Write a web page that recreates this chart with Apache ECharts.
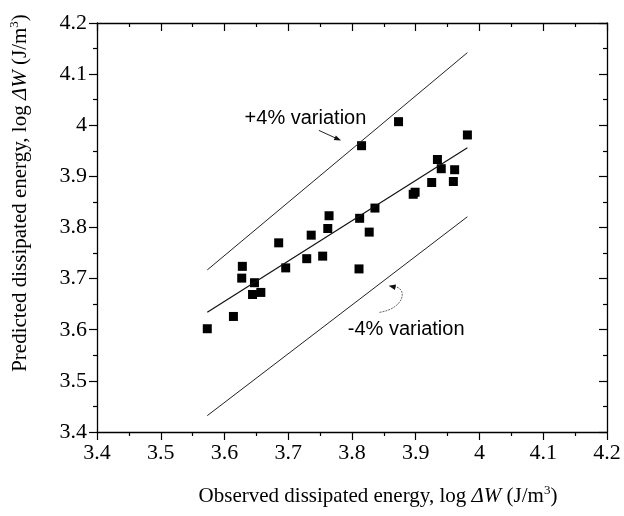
<!DOCTYPE html>
<html>
<head>
<meta charset="utf-8">
<script src="https://cdn.jsdelivr.net/npm/echarts@6/dist/echarts.min.js"></script>
<style>
html,body{margin:0;padding:0;background:#fff;}
#chart{width:624px;height:516px;}
</style>
</head>
<body>
<div id="chart"></div>
<script>
// Data (observed, predicted) in log ΔW
var observed = [3.573,3.614,3.628,3.627,3.647,3.644,3.657,3.685,3.696,3.729,3.736,3.754,3.762,3.764,3.811,3.812,3.815,3.827,3.836,3.873,3.896,3.899,3.925,3.934,3.940,3.959,3.961,3.981];
var predicted = [3.602,3.626,3.724,3.701,3.692,3.669,3.673,3.770,3.721,3.739,3.785,3.744,3.798,3.823,3.719,3.818,3.960,3.791,3.838,4.007,3.865,3.869,3.888,3.933,3.915,3.890,3.913,3.981];
var lineX = [3.573, 3.981];
var fitY = [3.634, 3.956];
var upperY = [3.717, 4.142];
var lowerY = [3.432, 3.821];
var tickMin = 3.4, tickMax = 4.2, tickStep = 0.1;

var scatterData = observed.map(function(x,i){return [x, predicted[i]];});
function pairs(ys){return lineX.map(function(x,i){return [x, ys[i]];});}

var serif = 'Liberation Serif';
var chart = echarts.init(document.getElementById('chart'));

function fmt(v){return String(Math.round(v*10)/10);}
function baseAxis(extra){
  var a = {
    type:'value', min:tickMin, max:tickMax, interval:tickStep,
    axisLine:{show:true, onZero:false, lineStyle:{color:'#000', width:1.3}},
    axisTick:{show:true, inside:false, length:8, lineStyle:{color:'#000', width:1.2}},
    minorTick:{show:true, splitNumber:2, length:4, lineStyle:{color:'#000', width:1.2}},
    splitLine:{show:false},
    axisLabel:{show:true, color:'#000', fontFamily:serif, fontSize:22, formatter:fmt}
  };
  for (var k in extra) a[k] = extra[k];
  return a;
}
var innerTicks = {
  axisTick:{show:true, inside:true, length:8, lineStyle:{color:'#000', width:1.2}},
  minorTick:{show:true, splitNumber:2, length:4, lineStyle:{color:'#000', width:1.2}}
};

var option = {
  animation:false,
  backgroundColor:'#fff',
  grid:{left:97, right:17, top:23, bottom:84},
  xAxis:[
    baseAxis({position:'bottom', axisLabel:{show:true, color:'#000', fontFamily:serif, fontSize:22, margin:10, formatter:fmt}}),
    baseAxis({position:'top', axisLabel:{show:false}, axisTick:innerTicks.axisTick, minorTick:innerTicks.minorTick})
  ],
  yAxis:[
    baseAxis({position:'left', axisLabel:{show:true, color:'#000', fontFamily:serif, fontSize:22, margin:10, formatter:fmt}}),
    baseAxis({position:'right', axisLabel:{show:false}, axisTick:innerTicks.axisTick, minorTick:innerTicks.minorTick})
  ],
  series:[
    {type:'line', data:pairs(upperY), symbol:'none', lineStyle:{color:'#222', width:1}, silent:true},
    {type:'line', data:pairs(lowerY), symbol:'none', lineStyle:{color:'#222', width:1}, silent:true},
    {type:'line', data:pairs(fitY), symbol:'none', lineStyle:{color:'#111', width:1.2}, silent:true},
    {type:'scatter', data:scatterData, symbol:'rect', symbolSize:9, itemStyle:{color:'#000', opacity:1}}
  ]
};
chart.setOption(option);

// Annotations positioned in data coordinates
var plusLabel = [3.727, 4.013];
var plusArrow = [[3.748, 3.990],[3.783, 3.970]];
var minusLabel = [3.885, 3.600];
var minusArrow = {tail:[3.843, 3.634], head:[3.859, 3.686]};
function px(p){return chart.convertToPixel({xAxisIndex:0, yAxisIndex:0}, p);}

var a0 = px(plusArrow[0]), a1 = px(plusArrow[1]);
var ang = Math.atan2(a1[1]-a0[1], a1[0]-a0[0]);
function head(tip, angle, len, wid){
  var bx = tip[0]-len*Math.cos(angle), by = tip[1]-len*Math.sin(angle);
  var nx = -Math.sin(angle)*wid, ny = Math.cos(angle)*wid;
  return [[tip[0],tip[1]],[bx+nx,by+ny],[bx-nx,by-ny]];
}
var mt = px(minusArrow.tail), mh = px(minusArrow.head);
var pl = px(plusLabel), ml = px(minusLabel);

chart.setOption({
  graphic:[
    {type:'text', x:pl[0], y:pl[1], style:{text:'+4% variation', font:'20px "Liberation Sans"', fill:'#000', align:'center', verticalAlign:'middle'}},
    {type:'text', x:ml[0], y:ml[1], style:{text:'-4% variation', font:'20px "Liberation Sans"', fill:'#000', align:'center', verticalAlign:'middle'}},
    {type:'line', shape:{x1:a0[0], y1:a0[1], x2:a1[0]-5*Math.cos(ang), y2:a1[1]-5*Math.sin(ang)}, style:{stroke:'#222', lineWidth:1}},
    {type:'polygon', shape:{points:head(a1, ang, 7, 2.5)}, style:{fill:'#111'}},
    {type:'bezierCurve', shape:{x1:mt[0], y1:mt[1], cpx1:mt[0]+26, cpy1:mt[1]-4, cpx2:mt[0]+28, cpy2:mh[1]+2, x2:mh[0]+5, y2:mh[1]+1}, style:{stroke:'#666', lineWidth:1, fill:null, lineDash:[2,1]}},
    {type:'polygon', shape:{points:head([mh[0]-1, mh[1]], Math.PI + 0.2, 7, 2.8)}, style:{fill:'#111'}},
    {type:'text', x:378, y:496, style:{
      text:'{a|Observed dissipated energy, log }{i|ΔW}{a| (J/m}{s|3}{a|)}',
      align:'center', verticalAlign:'middle',
      rich:{a:{fontFamily:serif, fontSize:21, fill:'#000'}, i:{fontFamily:serif, fontSize:21, fontStyle:'italic', fill:'#000'},
            s:{fontFamily:serif, fontSize:13, fill:'#000', verticalAlign:'top', padding:[0,0,10,0]}}}},
    {type:'text', x:20, y:193, rotation:Math.PI/2, style:{
      text:'{a|Predicted dissipated energy, log }{i|ΔW}{a| (J/m}{s|3}{a|)}',
      align:'center', verticalAlign:'middle',
      rich:{a:{fontFamily:serif, fontSize:21, fill:'#000'}, i:{fontFamily:serif, fontSize:21, fontStyle:'italic', fill:'#000'},
            s:{fontFamily:serif, fontSize:13, fill:'#000', verticalAlign:'top', padding:[0,0,10,0]}}}}
  ]
});
</script>
</body>
</html>
